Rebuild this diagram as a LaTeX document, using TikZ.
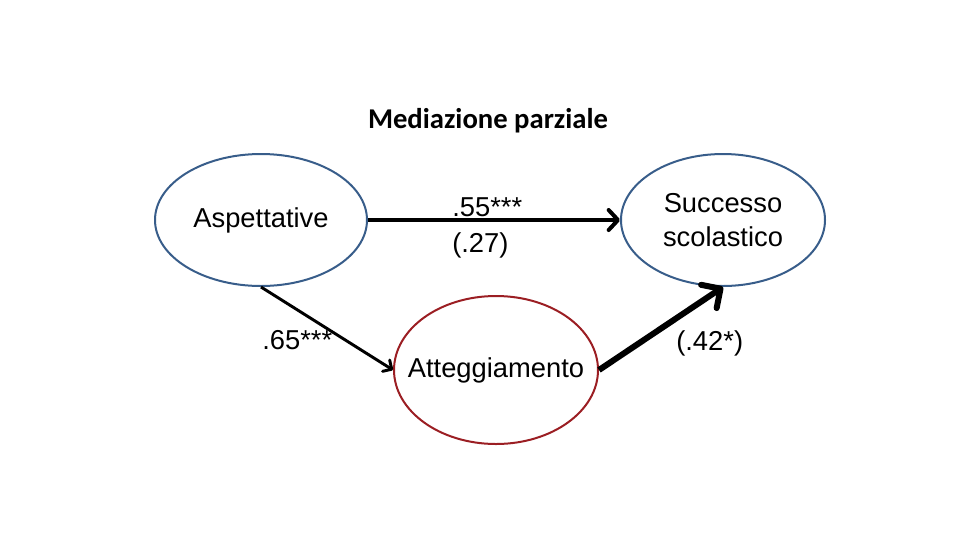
\documentclass[tikz,border=0pt]{standalone}
\usepackage{fontspec}
\setmainfont{Liberation Sans}
\newfontfamily\titlefont{Carlito}
\usepackage{xcolor}
\usetikzlibrary{arrows.meta, shapes.geometric, positioning}
\definecolor{bordoblu}{RGB}{56,93,138}
\definecolor{bordorosso}{RGB}{155,30,35}

\begin{document}
\begin{tikzpicture}[x=0.75pt, y=-0.75pt, >={Straight Barb[round]}]
    \useasboundingbox (0,0) rectangle (960,540);
    \tikzset{variabile/.style={ellipse, draw=bordoblu, line width=1.5pt, inner sep=0pt},
        every label/.style={align=center, font=\fontsize{20.5}{25}\selectfont},
        coeff/.style={font=\fontsize{20.5}{27}\selectfont, inner sep=0pt, align=left}}
    % Titolo
    \node[font=\titlefont\bfseries\fontsize{21.5}{24}\selectfont, anchor=base] (titolo) at (488,128) {Mediazione parziale};
    % Variabili
    \node[variabile, minimum width=159pt, minimum height=99pt, label=center:{Aspettative}] (asp) at (261,220) {};
    \node[variabile, minimum width=153pt, minimum height=99pt, label=center:{Successo\\scolastico}] (succ) at (723,220) {};
    \node[variabile, draw=bordorosso, minimum width=153pt, minimum height=111pt, label=center:{Atteggiamento}] (att) at (496,370) {};
    % Percorsi
    \draw[-{Straight Barb[round, length=7pt, width=15pt]}, line width=3pt] (asp.east) -- (succ.west);
    \draw[-{Straight Barb[round, length=5pt, width=10pt]}, line width=2.2pt] (asp.south) -- (att.west);
    \draw[->, line width=4.5pt] (att.east) -- (succ.south);
    % Coefficienti
    \node[coeff, anchor=west] (c1) at (452,228) {.55***\\(.27)};
    \node[coeff, anchor=base west] (c2) at (262,349) {.65***};
    \node[coeff, anchor=base west] (c3) at (676,350) {(.42*)};
\end{tikzpicture}
\end{document}
